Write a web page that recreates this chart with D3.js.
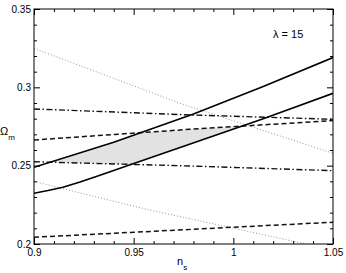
<!DOCTYPE html>
<html><head><meta charset="utf-8">
<script src="https://cdn.jsdelivr.net/npm/d3@7"></script>
<style>body{margin:0;background:#fff}svg{display:block}text{font-family:"Liberation Sans",Arial,sans-serif;fill:#000}</style>
</head><body>
<svg id="c" width="346" height="273"></svg>
<script>
// data (n_s, Omega_m)
const solidUpperX = [0.9, 0.94, 0.98, 1.015, 1.05];
const solidUpperY = [0.249, 0.265, 0.283, 0.3005, 0.319];
const solidLowerX = [0.9, 0.907, 0.9145, 0.9231, 0.9331, 0.9497, 0.978, 1.015, 1.05];
const solidLowerY = [0.2324, 0.2341, 0.2362, 0.2396, 0.2439, 0.2512, 0.2637, 0.2800, 0.2962];
const dashedUpperX = [0.9, 0.978, 1.05];
const dashedUpperY = [0.2664, 0.2732, 0.2788];
const dashedLowerX = [0.9, 0.975, 1.05];
const dashedLowerY = [0.2043, 0.2091, 0.2139];
const dashDotUpperX = [0.9, 0.978, 1.05];
const dashDotUpperY = [0.2862, 0.2824, 0.2796];
const dashDotLowerX = [0.9, 0.978, 1.05];
const dashDotLowerY = [0.2525, 0.2498, 0.2468];
const dottedUpperX = [0.9, 0.9732, 1.05];
const dottedUpperY = [0.3249, 0.2898, 0.2579];
const dottedLowerX = [0.9, 0.9565, 1.0365, 1.05];
const dottedLowerY = [0.2399, 0.2221, 0.2, 0.1962];
const xTicks = [0.9, 0.95, 1, 1.05];
const xTickLabels = ["0.9", "0.95", "1", "1.05"];
const yTicks = [0.2, 0.25, 0.3, 0.35];
const yTickLabels = ["0.2", "0.25", "0.3", "0.35"];
const annotation = "λ = 15";

const svg = d3.select("#c");
const L = 34, R = 333, T = 9, B = 244;
const x = d3.scaleLinear([0.9, 1.05], [L, R]);
const y = d3.scaleLinear([0.2, 0.35], [B, T]);

svg.append("clipPath").attr("id", "clip").append("rect")
  .attr("x", L).attr("y", T).attr("width", R - L).attr("height", B - T);
const g = svg.append("g").attr("clip-path", "url(#clip)");

const pts = (xs, ys) => xs.map((v, i) => [v, ys[i]]);
const interp = (xs, ys) => d3.scaleLinear().domain(xs).range(ys).clamp(false);

// shaded region
const fSU = interp(solidUpperX, solidUpperY), fSL = interp(solidLowerX, solidLowerY);
const fDU = interp(dashedUpperX, dashedUpperY), fDDL = interp(dashDotLowerX, dashDotLowerY);
const samples = d3.range(0.9, 1.0501, 0.0002).map(v => {
  const lo = Math.max(fDDL(v), fSL(v)), hi = Math.min(fDU(v), fSU(v));
  return {v, lo, hi};
});
g.append("path").datum(samples)
  .attr("d", d3.area().defined(d => d.hi > d.lo).x(d => x(d.v)).y0(d => y(d.lo)).y1(d => y(d.hi)))
  .attr("fill", "#e2e2e2");

const line = d3.line().x(d => x(d[0])).y(d => y(d[1]));
const series = [
  {d: pts(dottedUpperX, dottedUpperY), stroke: "#8a8a8a", w: 0.9, dash: "1,2"},
  {d: pts(dottedLowerX, dottedLowerY), stroke: "#8a8a8a", w: 0.9, dash: "1,2"},
  {d: pts(dashedUpperX, dashedUpperY), stroke: "#111", w: 1.5, dash: "5,3"},
  {d: pts(dashedLowerX, dashedLowerY), stroke: "#111", w: 1.5, dash: "5,3"},
  {d: pts(dashDotUpperX, dashDotUpperY), stroke: "#111", w: 1.4, dash: "6,2.5,1.5,2.5"},
  {d: pts(dashDotLowerX, dashDotLowerY), stroke: "#111", w: 1.4, dash: "6,2.5,1.5,2.5"},
  {d: pts(solidUpperX, solidUpperY), stroke: "#000", w: 1.6, dash: null},
  {d: pts(solidLowerX, solidLowerY), stroke: "#000", w: 1.6, dash: null}
];
series.forEach(s => {
  g.append("path").datum(s.d).attr("d", line).attr("fill", "none")
    .attr("stroke", s.stroke).attr("stroke-width", s.w)
    .attr("stroke-dasharray", s.dash).attr("stroke-linejoin", "round");
});

// axes
const minorX = d3.range(0.9, 1.0501, 0.01).filter(v => !xTicks.some(t => Math.abs(t - v) < 1e-6));
const minorY = d3.range(0.2, 0.3501, 0.01).filter(v => !yTicks.some(t => Math.abs(t - v) < 1e-6));
function styleAxis(sel) {
  sel.selectAll(".domain").remove();
  sel.selectAll("line").attr("stroke", "#000");
  sel.selectAll("text").attr("font-size", 10).attr("fill", "#000")
     .attr("font-family", "'Liberation Sans', Arial, sans-serif");
}
const ax = (fn, sc, tr, ticks, size, labels, pad) => {
  const a = fn(sc).tickValues(ticks).tickSize(size).tickSizeOuter(0).tickPadding(pad || 3);
  a.tickFormat(labels ? ((d, i) => labels[i]) : () => "");
  svg.append("g").attr("transform", tr).call(a).call(styleAxis);
};
ax(d3.axisBottom, x, `translate(0,${B})`, xTicks, -6, xTickLabels, 5);
ax(d3.axisBottom, x, `translate(0,${B})`, minorX, -3, null);
ax(d3.axisTop, x, `translate(0,${T})`, xTicks, -6, null);
ax(d3.axisTop, x, `translate(0,${T})`, minorX, -3, null);
ax(d3.axisLeft, y, `translate(${L},0)`, yTicks, -6, yTickLabels, 3);
ax(d3.axisLeft, y, `translate(${L},0)`, minorY, -3, null);
ax(d3.axisRight, y, `translate(${R},0)`, yTicks, -6, null);
ax(d3.axisRight, y, `translate(${R},0)`, minorY, -3, null);

svg.append("rect").attr("x", L).attr("y", T).attr("width", R - L).attr("height", B - T)
  .attr("fill", "none").attr("stroke", "#000").attr("stroke-width", 1);

// axis titles
const yt = svg.append("text").attr("x", 0).attr("y", 135).attr("font-size", 11);
yt.append("tspan").text("Ω");
yt.append("tspan").attr("font-size", 8).attr("dy", 5).text("m");
const xt = svg.append("text").attr("x", 177).attr("y", 265).attr("font-size", 11);
xt.append("tspan").text("n");
xt.append("tspan").attr("font-size", 8).attr("dy", 5).text("s");

svg.append("text").attr("x", 273).attr("y", 37.5).attr("font-size", 11).text(annotation);
</script>
</body></html>
